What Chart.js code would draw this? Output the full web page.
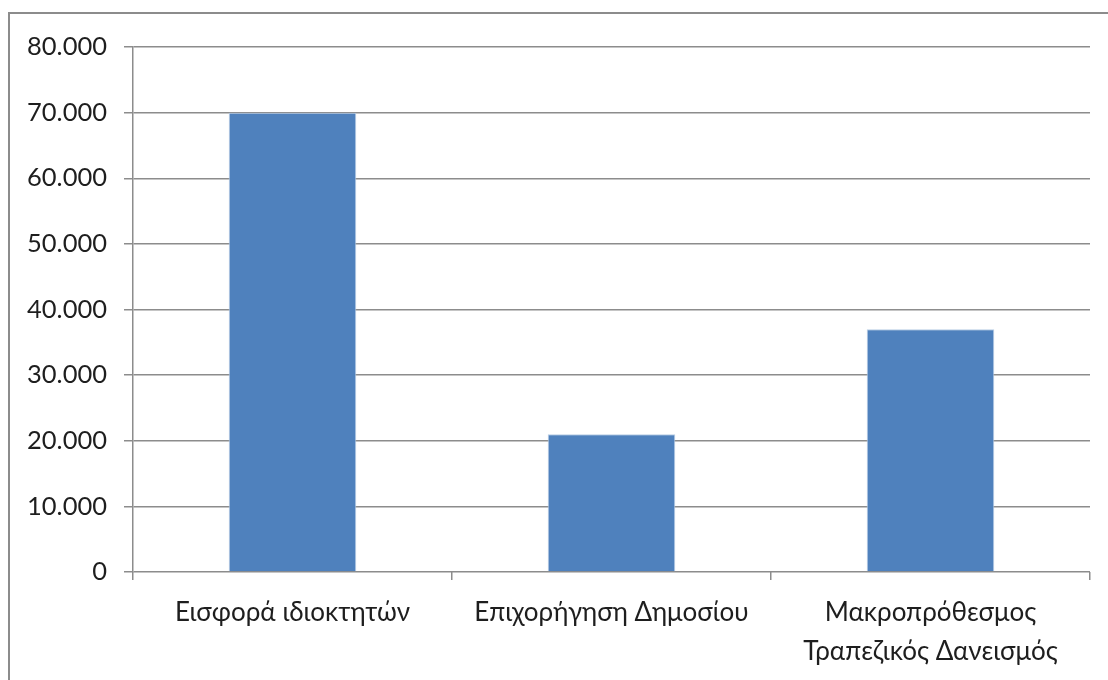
<!DOCTYPE html>
<html>
<head>
<meta charset="utf-8">
<script src="https://cdn.jsdelivr.net/npm/chart.js@4.4.1/dist/chart.umd.min.js"></script>
<style>
	html, body { margin: 0; padding: 0; background: #fff; }
	#wrap { position: relative; width: 1108px; height: 680px; overflow: hidden; }
	#frame { position: absolute; left: 8px; top: 12px; width: 1200px; height: 800px;
		border-top: 2px solid #8c8c8c; border-left: 2px solid #8c8c8c; }
	#chart-box { position: absolute; left: 0; top: 0; width: 1108px; height: 680px; }
</style>
</head>
<body>
<div id="wrap">
	<div id="frame"></div>
	<div id="chart-box"><canvas id="bar-chart"></canvas></div>
</div>
<script>
// categories and values
var categories = ["Εισφορά ιδιοκτητών", "Επιχορήγηση Δημοσίου", ["Μακροπρόθεσμος", "Τραπεζικός Δανεισμός"]];
var amounts = [70000, 21000, 37000];
var yTicks = [0, 10000, 20000, 30000, 40000, 50000, 60000, 70000, 80000];

function formatGreek(v) {
	return String(v).replace(/\B(?=(\d{3})+(?!\d))/g, ".");
}

var ctx = document.getElementById("bar-chart");
var fontFamily = "Lato, 'Open Sans', 'Noto Sans', sans-serif";

var data = {
	labels : categories,
	datasets : [
		{
			label : "Ποσό",
			data : amounts,
			backgroundColor : "#4f81bd",
			borderColor : "#b9cde5",
			borderWidth : 1,
			barPercentage : 1,
			categoryPercentage : 0.4
		}
	]
};

var options = {
	responsive : false,
	animation : false,
	layout : {
		padding : { top : 47, right : 18, bottom : 0, left : 0 }
	},
	plugins : {
		legend : { display : false },
		title : { display : false },
		tooltip : { enabled : false }
	},
	scales : {
		x : {
			grid : {
				offset : true,
				drawOnChartArea : false,
				drawTicks : true,
				tickLength : 8,
				color : "#8c8c8c",
				lineWidth : 1.5
			},
			border : { display : false },
			ticks : {
				color : "#1e1e1e",
				font : { family : fontFamily, size : 26, lineHeight : 1.5 },
				padding : 13,
				maxRotation : 0,
				autoSkip : false
			},
			afterFit : function(scale) { scale.height = 108; }
		},
		y : {
			min : 0,
			max : 80000,
			afterBuildTicks : function(scale) {
				scale.ticks = yTicks.map(function(v) { return { value : v }; });
			},
			grid : {
				color : "#8c8c8c",
				lineWidth : 1.5,
				drawTicks : true,
				tickLength : 9
			},
			border : { display : true, color : "#8c8c8c", width : 1.5 },
			ticks : {
				color : "#1e1e1e",
				font : { family : fontFamily, size : 25.5 },
				padding : 17,
				callback : function(v) { return formatGreek(v); }
			},
			afterFit : function(scale) { scale.width = 133; }
		}
	}
};

ctx.width = 1108;
ctx.height = 680;
var chart = new Chart(ctx, {
	type : "bar",
	data : data,
	options : options
});
</script>
</body>
</html>
